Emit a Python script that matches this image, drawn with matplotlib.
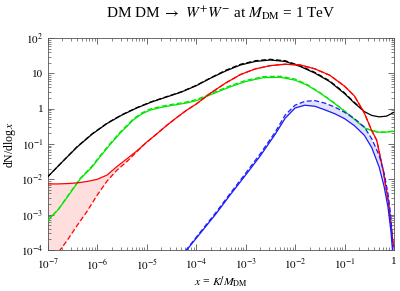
# -*- coding: utf-8 -*-
# DM DM -> W+W- spectra at M_DM = 1 TeV, log-log, Mathematica-like frame

import numpy as np
import matplotlib
matplotlib.use('Agg')
import matplotlib.pyplot as plt
from matplotlib.ticker import LogLocator, FixedLocator, FuncFormatter, NullFormatter

# ---- data: log10(x) and log10(dN/dlog x) ----
# black
lxBlack = [-7, -6.7, -6.4, -6.1, -5.8, -5.5, -5.2, -4.9, -4.6, -4.3, -4.0, -3.7, -3.4, -3.1,
           -2.8, -2.5, -2.2, -1.9, -1.6, -1.3, -1.0, -0.8, -0.6, -0.45, -0.3, -0.15, 0.0]
lyBlack = [-1.93, -1.5, -1.08, -0.72, -0.42, -0.18, 0.02, 0.19, 0.33, 0.47, 0.65, 0.87, 1.07, 1.24,
           1.34, 1.38, 1.34, 1.20, 1.01, 0.77, 0.43, 0.16, -0.08, -0.19, -0.23, -0.21, -0.10]
lxBlackDash = [-7, -6.7, -6.4, -6.1, -5.8, -5.5, -5.2, -4.9, -4.6, -4.3, -4.0, -3.7, -3.4, -3.1,
               -2.8, -2.5, -2.2, -1.9, -1.6, -1.3, -1.0, -0.8, -0.6]
lyBlackDash = [-1.93, -1.5, -1.07, -0.71, -0.41, -0.17, 0.03, 0.20, 0.34, 0.48, 0.66, 0.88, 1.09, 1.26,
               1.36, 1.40, 1.36, 1.22, 1.03, 0.79, 0.45, 0.18, -0.07]

# red (solid and dashed on the same x grid)
lxRed = [-7, -6.8, -6.6, -6.4, -6.2, -6.0, -5.8, -5.6, -5.4, -5.2, -5.0, -4.8, -4.6, -4.4, -4.2,
         -4.0, -3.7, -3.4, -3.1, -2.8, -2.5, -2.2, -1.9, -1.6, -1.3, -1.0, -0.8, -0.6, -0.45,
         -0.35, -0.22, -0.11, -0.01]
lyRed = [-2.13, -2.13, -2.12, -2.10, -2.06, -2.0, -1.88, -1.64, -1.42, -1.2, -0.95, -0.72, -0.48,
         -0.26, -0.05, 0.13, 0.45, 0.73, 0.97, 1.13, 1.22, 1.26, 1.24, 1.13, 0.95, 0.64, 0.36,
         -0.12, -0.62, -0.89, -1.74, -2.68, -3.9]
lyRedDash = [-4.6, -4.1, -3.72, -3.3, -2.9, -2.45, -2.05, -1.74, -1.5, -1.22, -0.95, -0.72, -0.48,
             -0.26, -0.05, 0.13, 0.45, 0.73, 0.97, 1.13, 1.22, 1.26, 1.24, 1.13, 0.95, 0.64, 0.36,
             -0.12, -0.62, -0.89, -1.74, -2.68, -3.9]

# green
lxGreen = [-7, -6.78, -6.6, -6.34, -6.1, -5.94, -5.74, -5.54, -5.27, -5.1, -4.93, -4.7, -4.46,
           -4.2, -3.99, -3.7, -3.31, -3.0, -2.64, -2.3, -2.0, -1.76, -1.5, -1.23, -0.9, -0.7,
           -0.56, -0.35, -0.2, 0.0]
lyGreen = [-3.17, -2.85, -2.5, -1.99, -1.65, -1.36, -1.02, -0.70, -0.32, -0.15, -0.04, 0.04, 0.10,
           0.16, 0.23, 0.40, 0.62, 0.77, 0.88, 0.89, 0.81, 0.67, 0.45, 0.18, -0.18, -0.42,
           -0.57, -0.66, -0.67, -0.64]
lyGreenDash = [-3.17, -2.84, -2.48, -1.97, -1.62, -1.33, -0.99, -0.67, -0.29, -0.12, -0.01, 0.07, 0.13,
               0.19, 0.26, 0.43, 0.65, 0.80, 0.91, 0.92, 0.84, 0.69, 0.46, 0.19, -0.17, -0.41,
               -0.56, -0.65, -0.66, -0.63]

# blue (solid and dashed on the same x grid)
lxBlue = [-4.3, -4.2, -3.9, -3.6, -3.3, -3.0, -2.7, -2.4, -2.2, -2.0, -1.8, -1.6, -1.4, -1.2,
          -1.0, -0.8, -0.6, -0.45, -0.3, -0.2, -0.12, -0.06, -0.02]
lyBlue = [-4.2, -4.02, -3.5, -2.98, -2.42, -1.88, -1.33, -0.72, -0.27, 0.02, 0.10, 0.07, -0.03,
          -0.14, -0.28, -0.48, -0.75, -1.1, -1.65, -2.2, -2.8, -3.5, -4.2]
lyBlueDash = [-4.2, -4.0, -3.47, -2.94, -2.38, -1.83, -1.27, -0.66, -0.18, 0.10, 0.21, 0.23, 0.16,
              0.05, -0.1, -0.28, -0.52, -0.85, -1.32, -1.82, -2.42, -3.1, -4.0]

lstXTicks = [1e-7, 1e-6, 1e-5, 1e-4, 1e-3, 1e-2, 1e-1, 1]
lstYTicks = [1e-4, 1e-3, 1e-2, 1e-1, 1, 10, 100]


def pw(lst):
	return np.power(10.0, np.array(lst))


plt.rcParams['font.family'] = ['Liberation Serif', 'DejaVu Serif']
plt.rcParams['mathtext.fontset'] = 'stix'

fig = plt.figure(figsize=(4.0, 2.91), dpi=100)
ax = fig.add_axes([0.119, 0.141, 0.866, 0.728])

sDash = (0, (4, 2))
fLw = 0.9
sGreen = '#00e600'
sBlue = '#1a1aff'

# shaded bands
ax.fill_between(pw(lxRed), pw(lyRedDash), pw(lyRed), color='#ffdede', lw=0, zorder=1)
ax.fill_between(pw(lxBlue), pw(lyBlue), pw(lyBlueDash), color='#e2e2fa', lw=0, zorder=1)

ax.plot(pw(lxBlackDash), pw(lyBlackDash), color='black', lw=fLw, ls=sDash, zorder=3)
ax.plot(pw(lxBlack), pw(lyBlack), color='black', lw=fLw, zorder=3)
ax.plot(pw(lxGreen), pw(lyGreenDash), color=sGreen, lw=fLw, ls=sDash, zorder=3)
ax.plot(pw(lxGreen), pw(lyGreen), color=sGreen, lw=fLw, zorder=3)
ax.plot(pw(lxRed), pw(lyRedDash), color='red', lw=fLw, ls=sDash, zorder=4)
ax.plot(pw(lxRed), pw(lyRed), color='red', lw=fLw, zorder=4)
ax.plot(pw(lxBlue), pw(lyBlueDash), color=sBlue, lw=fLw, ls=sDash, zorder=4)
ax.plot(pw(lxBlue), pw(lyBlue), color=sBlue, lw=fLw, zorder=4)

ax.set_xscale('log')
ax.set_yscale('log')
ax.set_xlim(1e-7, 1)
ax.set_ylim(1e-4, 1e2)


def fmt_pow(v, pos):
	iExp = int(round(np.log10(v)))
	if iExp == 0:
		return '1'
	if iExp == 1:
		return '10'
	return r'$10^{%d}$' % iExp


ax.xaxis.set_major_locator(FixedLocator(lstXTicks))
ax.yaxis.set_major_locator(FixedLocator(lstYTicks))
ax.xaxis.set_major_formatter(FuncFormatter(fmt_pow))
ax.yaxis.set_major_formatter(FuncFormatter(fmt_pow))
ax.xaxis.set_minor_locator(LogLocator(base=10, subs=np.arange(2, 10), numticks=20))
ax.yaxis.set_minor_locator(LogLocator(base=10, subs=np.arange(2, 10), numticks=20))
ax.xaxis.set_minor_formatter(NullFormatter())
ax.yaxis.set_minor_formatter(NullFormatter())
ax.tick_params(which='both', direction='in', top=True, right=True, labelsize=8, color='#555555')
ax.tick_params(which='major', length=4, width=0.6)
ax.tick_params(which='minor', length=2, width=0.5)
ax.tick_params(axis='x', which='major', pad=5)
ax.tick_params(axis='y', which='major', pad=3)
for sp in ax.spines.values():
	sp.set_linewidth(0.6)
	sp.set_color('#555555')

ax.set_xlabel(r'$x$ = $K/M_{\rm DM}$', fontsize=8.5, labelpad=2)
ax.set_ylabel(r'dN/dlog$\,x$', fontsize=8.5, labelpad=2)
fig.suptitle(r'DM DM $\rightarrow$ $W^{+}W^{-}$ at $M_{\rm DM}$ = 1 TeV', x=0.553, y=0.985,
			 fontsize=11, va='top')

fig.savefig('out.png', dpi=100)
